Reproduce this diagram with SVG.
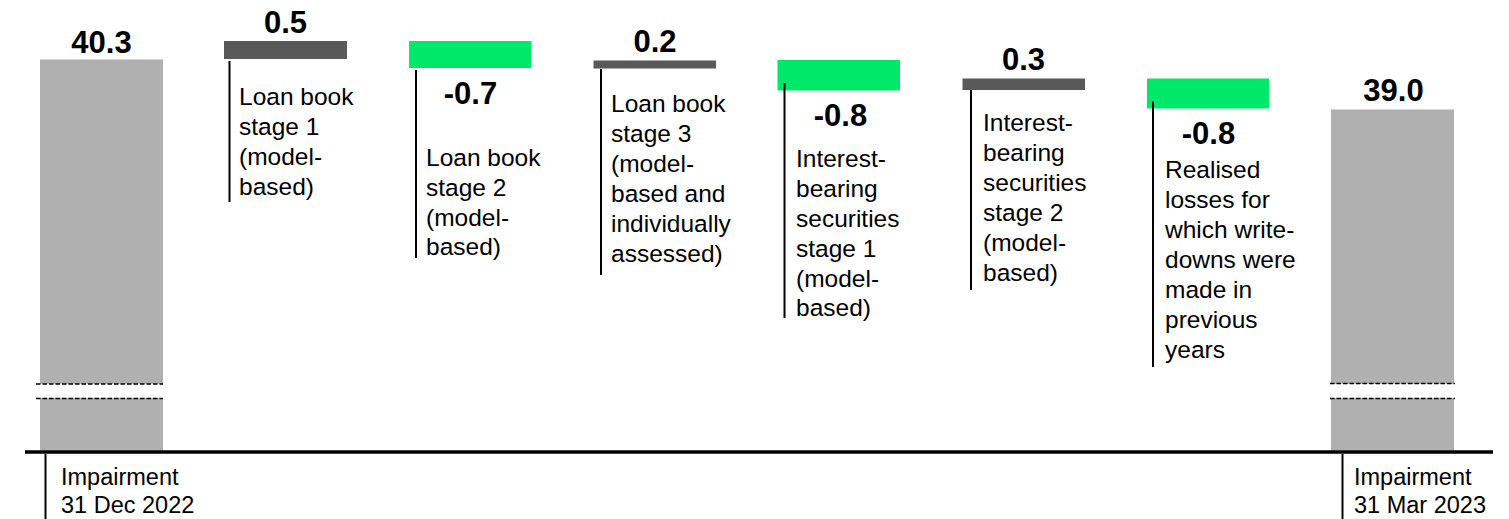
<svg xmlns="http://www.w3.org/2000/svg" width="1509" height="519" viewBox="0 0 1509 519">
<style>
.val{font-family:"Liberation Sans",Arial,sans-serif;font-weight:bold;font-size:31px;fill:#000;text-anchor:middle}
.lbl{font-family:"Liberation Sans",Arial,sans-serif;font-size:24.5px;fill:#000}
.axl{font-family:"Liberation Sans",Arial,sans-serif;font-size:23.5px;fill:#000}
.total{fill:#B0B0B0}
.up{fill:#595959}
.down{fill:#00E86A}
.lead{stroke:#000;stroke-width:2;fill:none}
.brk{stroke:#000;stroke-width:1.5;stroke-dasharray:4.5 2;fill:none}
</style>
<rect width="1509" height="519" fill="#fff"/>
<g id="bar1">
<rect class="total" x="40" y="59.5" width="123" height="391"/>
<rect x="36" y="384" width="128" height="14" fill="#fff"/>
<line class="brk" x1="36" y1="384" x2="163" y2="384"/>
<line class="brk" x1="36" y1="398.5" x2="163" y2="398.5"/>
<text class="val" x="101.5" y="52.5">40.3</text>
<text class="axl"><tspan x="61" y="485">Impairment</tspan><tspan x="61" y="513">31 Dec 2022</tspan></text>
</g>
<g id="bar2">
<rect class="up" x="224" y="41" width="123" height="18"/>
<text class="val" x="285.5" y="32.5">0.5</text>
<text class="lbl"><tspan x="239" y="105">Loan book</tspan><tspan x="239" y="135">stage 1</tspan><tspan x="239" y="165">(model-</tspan><tspan x="239" y="195">based)</tspan></text>
</g>
<g id="bar3">
<rect class="down" x="409" y="41" width="122.5" height="27"/>
<text class="val" x="470.5" y="103.5">-0.7</text>
<text class="lbl"><tspan x="426" y="166">Loan book</tspan><tspan x="426" y="196">stage 2</tspan><tspan x="426" y="226">(model-</tspan><tspan x="426" y="255">based)</tspan></text>
</g>
<g id="bar4">
<rect class="up" x="593.5" y="60.5" width="122.5" height="8"/>
<text class="val" x="655" y="52">0.2</text>
<text class="lbl"><tspan x="611" y="112">Loan book</tspan><tspan x="611" y="142">stage 3</tspan><tspan x="611" y="172">(model-</tspan><tspan x="611" y="202">based and</tspan><tspan x="611" y="232">individually</tspan><tspan x="611" y="262">assessed)</tspan></text>
</g>
<g id="bar5">
<rect class="down" x="777.5" y="60" width="122.5" height="30.5"/>
<text class="val" x="840.5" y="126">-0.8</text>
<text class="lbl"><tspan x="796" y="167">Interest-</tspan><tspan x="796" y="197">bearing</tspan><tspan x="796" y="227">securities</tspan><tspan x="796" y="257">stage 1</tspan><tspan x="796" y="287">(model-</tspan><tspan x="796" y="316">based)</tspan></text>
</g>
<g id="bar6">
<rect class="up" x="962.5" y="78.5" width="122.5" height="11.5"/>
<text class="val" x="1023.5" y="69.5">0.3</text>
<text class="lbl"><tspan x="983" y="131">Interest-</tspan><tspan x="983" y="161">bearing</tspan><tspan x="983" y="191">securities</tspan><tspan x="983" y="221">stage 2</tspan><tspan x="983" y="251">(model-</tspan><tspan x="983" y="281">based)</tspan></text>
</g>
<g id="bar7">
<rect class="down" x="1147" y="78.5" width="122" height="30"/>
<text class="val" x="1208.5" y="144">-0.8</text>
<text class="lbl"><tspan x="1165" y="178">Realised</tspan><tspan x="1165" y="208">losses for</tspan><tspan x="1165" y="238">which write-</tspan><tspan x="1165" y="268">downs were</tspan><tspan x="1165" y="298">made in</tspan><tspan x="1165" y="328">previous</tspan><tspan x="1165" y="358">years</tspan></text>
</g>
<g id="bar8">
<rect class="total" x="1331" y="109.5" width="123" height="341"/>
<rect x="1330" y="384" width="126" height="14" fill="#fff"/>
<line class="brk" x1="1330" y1="383.5" x2="1455" y2="383.5"/>
<line class="brk" x1="1330" y1="398.5" x2="1455" y2="398.5"/>
<text class="val" x="1393.5" y="101">39.0</text>
<text class="axl"><tspan x="1354" y="485">Impairment</tspan><tspan x="1354" y="513">31 Mar 2023</tspan></text>
</g>
<g id="connectors">
<line x1="25" y1="452" x2="1493" y2="452" stroke="#000" stroke-width="3.5"/>
<line class="lead" x1="45.5" y1="454" x2="45.5" y2="519"/>
<line class="lead" x1="1342.5" y1="454" x2="1342.5" y2="519"/>
<line class="lead" x1="229.5" y1="61" x2="229.5" y2="202"/>
<line class="lead" x1="416" y1="70" x2="416" y2="258"/>
<line class="lead" x1="601" y1="69" x2="601" y2="275"/>
<line class="lead" x1="784.5" y1="83" x2="784.5" y2="318"/>
<line class="lead" x1="971" y1="90" x2="971" y2="290"/>
<line class="lead" x1="1153" y1="101.5" x2="1153" y2="367"/>
</g>
</svg>
